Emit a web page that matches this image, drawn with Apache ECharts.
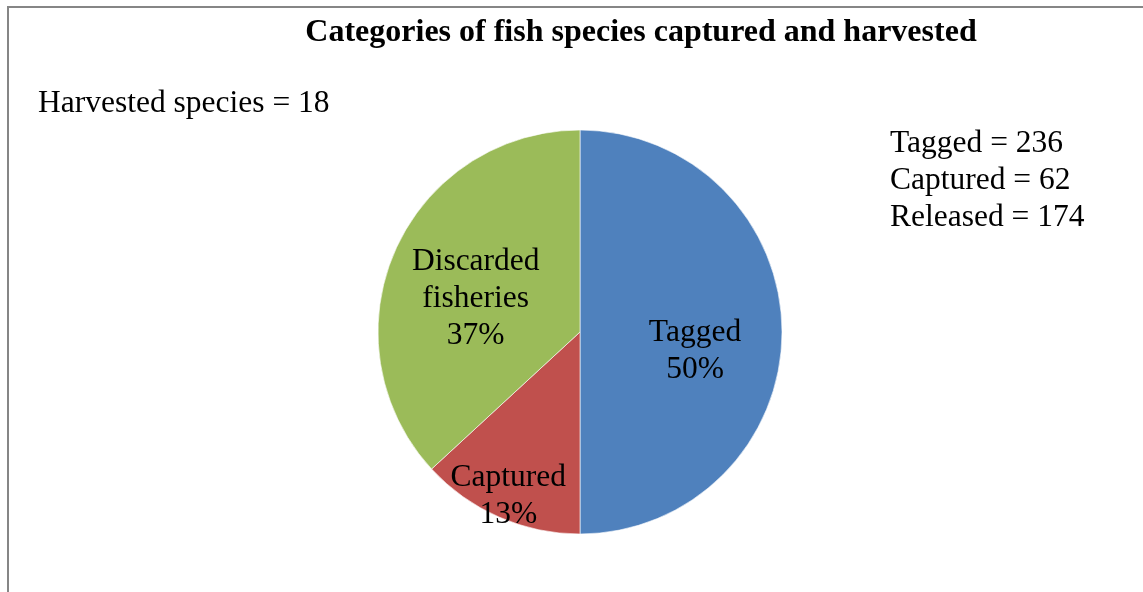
<!DOCTYPE html>
<html><head><meta charset="utf-8">
<script src="https://cdn.jsdelivr.net/npm/echarts@6/dist/echarts.min.js"></script>
<style>html,body{margin:0;padding:0;background:#fff}#c{width:1143px;height:592px}</style>
</head><body><div id="c"></div>
<script>
const titleText = 'Categories of fish species captured and harvested';
const categories = ['Tagged', 'Captured', 'Discarded\nfisheries'];
const values = [236, 62, 174];
const colors = ['#4F81BD', '#C0504D', '#9BBB59'];
const leftNote = ['Harvested species = 18'];
const rightNotes = ['Tagged = 236', 'Captured = 62', 'Released = 174'];
const labelShift = [[11, 19], [-30, 69], [-9, 8]];

const chart = echarts.init(document.getElementById('c'), null, {renderer: 'canvas'});
const FONT = '"Liberation Serif", "Times New Roman", serif';
chart.setOption({
  backgroundColor: '#fff',
  animation: false,
  title: {
    text: titleText, left: 636, top: 12, textAlign: 'center',
    textStyle: {fontFamily: FONT, fontWeight: 'bold', fontSize: 32, lineHeight: 32, color: '#000'}
  },
  graphic: [
    {type: 'rect', shape: {x: 8, y: 7, width: 1200, height: 700}, style: {fill: 'none', stroke: '#868686', lineWidth: 2}, silent: true},
    {type: 'text', left: 38, top: 85, style: {text: leftNote.join('\n'), font: '31.5px ' + FONT, fill: '#000', lineHeight: 37}},
    {type: 'text', left: 890, top: 125, style: {text: rightNotes.join('\n'), font: '31.5px ' + FONT, fill: '#000', lineHeight: 37}}
  ],
  series: [{
    type: 'pie',
    center: [580, 332],
    radius: 202,
    startAngle: 90,
    clockwise: true,
    data: categories.map((c, i) => ({name: c, value: values[i], itemStyle: {color: colors[i]}})),
    itemStyle: {borderColor: 'rgba(255,255,255,0.6)', borderWidth: 1},
    label: {
      position: 'inner',
      formatter: p => p.name + '\n' + Math.round(p.percent) + '%',
      fontFamily: FONT, fontSize: 31.5, color: '#000', lineHeight: 37, align: 'center'
    },
    labelLine: {show: false},
    labelLayout: p => ({dx: labelShift[p.dataIndex][0], dy: labelShift[p.dataIndex][1]}),
    emphasis: {disabled: true}
  }]
});
</script></body></html>
